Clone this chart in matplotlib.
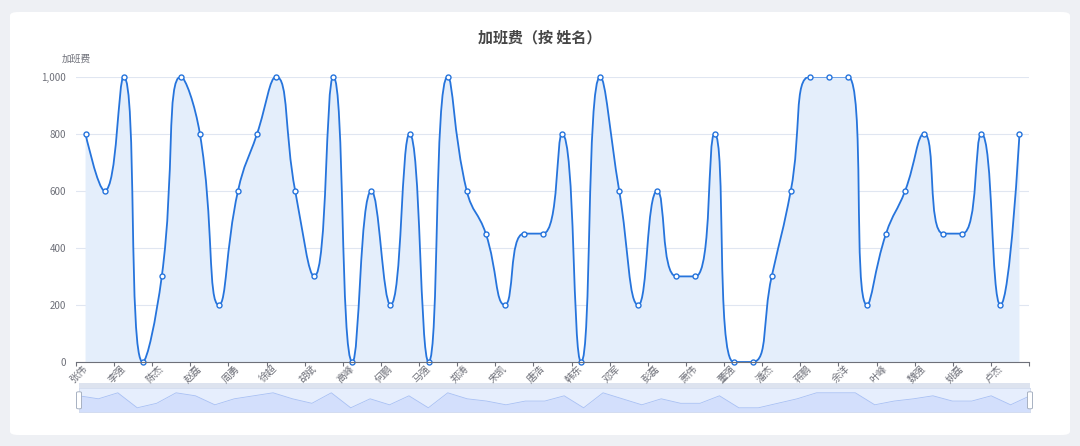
import numpy as np
import matplotlib
matplotlib.use("Agg")
import matplotlib.pyplot as plt
from matplotlib.path import Path
from matplotlib.patches import PathPatch, FancyBboxPatch, Rectangle

plt.rcParams['font.family'] = ['Noto Sans CJK SC', 'DejaVu Sans']

# ---------------- data ----------------
names = ["张伟", "王芳", "李强", "刘洋", "陈杰", "杨静", "赵磊", "黄丽", "周勇", "吴敏",
         "徐超", "孙娜", "胡斌", "朱燕", "高峰", "林霞", "何鹏", "郭倩", "马强", "罗婷",
         "郑涛", "梁雪", "宋凯", "谢丽", "唐浩", "许静", "韩东", "冯洁", "邓军", "曹颖",
         "彭磊", "曾琳", "萧伟", "田甜", "董强", "袁媛", "潘杰", "蔡芳", "蒋鹏", "杜娟",
         "余洋", "程丽", "叶峰", "苏敏", "魏强", "吕琴", "姚磊", "丁洁", "卢杰", "沈梅"]
overtime_pay = [800, 600, 1000, 0, 300, 1000, 800, 200, 600, 800,
                1000, 600, 300, 1000, 0, 600, 200, 800, 0, 1000,
                600, 450, 200, 450, 450, 800, 0, 1000, 600, 200,
                600, 300, 300, 800, 0, 0, 300, 600, 1000, 1000,
                1000, 200, 450, 600, 800, 450, 450, 800, 200, 800]
y_ticks = [0, 200, 400, 600, 800, 1000]
title_text = "加班费（按 姓名）"
y_name = "加班费"

# ---------------- style ----------------
W, H = 1080, 446
PAGE = "#eef0f4"
LINE = "#2674dc"
FILL = "#e4eefb"
AXC = "#6e7079"
GRID = "#e0e6f1"

def fx(px):
    return px / W

def fy(py):
    return 1 - py / H

fig = plt.figure(figsize=(W / 100, H / 100), dpi=100)
fig.patch.set_facecolor(PAGE)

card = FancyBboxPatch((fx(10), fy(435)), fx(1070) - fx(10), fy(12) - fy(435),
                      boxstyle="round,pad=0,rounding_size=0.008",
                      transform=fig.transFigure, facecolor="white",
                      edgecolor="none", zorder=-10)
fig.patches.append(card)

# main axes
L, R, T, B = 76, 1029, 76.7, 362
ax = fig.add_axes([fx(L), fy(B), fx(R) - fx(L), fy(T) - fy(B)])
ax.set_zorder(2)
ax.set_facecolor("none")
n = len(overtime_pay)
xs = np.arange(n)
ax.set_xlim(-0.5, n - 0.5)
ax.set_ylim(0, 1000)

for s in ["top", "right", "left"]:
    ax.spines[s].set_visible(False)
ax.spines["bottom"].set_color(AXC)
ax.spines["bottom"].set_linewidth(0.8)
ax.spines["bottom"].set_zorder(5)

ax.set_yticks(y_ticks)
ax.set_yticklabels([f"{v:,}" for v in y_ticks])
ax.tick_params(axis="y", length=0, pad=7, labelsize=7, labelcolor=AXC)
ax.yaxis.grid(True, color=GRID, linewidth=0.8)
ax.set_axisbelow(True)

# x ticks at band boundaries (every 2nd), labels at band centres
ax.set_xticks(np.arange(-0.5, n, 2))
ax.set_xticklabels([])
ax.tick_params(axis="x", which="major", length=3.2, color=AXC, width=0.8)
ax.set_xticks(xs[::2], minor=True)
ax.set_xticklabels(names[::2], minor=True, rotation=45, ha="right", va="center",
                   rotation_mode="anchor")
ax.tick_params(axis="x", which="minor", length=0, pad=3.5, labelsize=7.2, labelcolor=AXC)

# ECharts-style smooth curve computed in display space
fig.canvas.draw()
pts = ax.transData.transform(np.column_stack([xs, overtime_pay]))

def echarts_smooth(P, smooth=0.5):
    verts = [tuple(P[0])]
    codes = [Path.MOVETO]
    cpx0, cpy0 = P[0]
    prevX, prevY = P[0]
    N = len(P)
    for i in range(1, N):
        x, y = P[i]
        nextCpx0 = nextCpy0 = None
        if i == N - 1:
            cpx1, cpy1 = x, y
        else:
            nextX, nextY = P[i + 1]
            vx = nextX - prevX
            vy = nextY - prevY
            dx0, dy0 = x - prevX, y - prevY
            dx1, dy1 = nextX - x, nextY - y
            lp = np.hypot(dx0, dy0)
            ln = np.hypot(dx1, dy1)
            r = ln / (ln + lp)
            nextCpx0 = x + vx * smooth * r
            nextCpy0 = y + vy * smooth * r
            nextCpx0 = min(nextCpx0, max(nextX, x)); nextCpy0 = min(nextCpy0, max(nextY, y))
            nextCpx0 = max(nextCpx0, min(nextX, x)); nextCpy0 = max(nextCpy0, min(nextY, y))
            vx = nextCpx0 - x; vy = nextCpy0 - y
            cpx1 = x - vx * lp / ln; cpy1 = y - vy * lp / ln
            cpx1 = min(cpx1, max(prevX, x)); cpy1 = min(cpy1, max(prevY, y))
            cpx1 = max(cpx1, min(prevX, x)); cpy1 = max(cpy1, min(prevY, y))
            vx = x - cpx1; vy = y - cpy1
            nextCpx0 = x + vx * ln / lp
            nextCpy0 = y + vy * ln / lp
        verts += [(cpx0, cpy0), (cpx1, cpy1), (x, y)]
        codes += [Path.CURVE4] * 3
        cpx0, cpy0 = nextCpx0, nextCpy0
        prevX, prevY = x, y
    return np.array(verts), codes

v_disp, codes = echarts_smooth(pts)
v_data = ax.transData.inverted().transform(v_disp)

curve = Path(v_data, codes)
area_verts = np.vstack([v_data, [[xs[-1], 0], [xs[0], 0], v_data[0]]])
area_codes = codes + [Path.LINETO, Path.LINETO, Path.CLOSEPOLY]
ax.add_patch(PathPatch(Path(area_verts, area_codes), facecolor=FILL,
                       edgecolor="none", zorder=2))
ax.add_patch(PathPatch(curve, facecolor="none", edgecolor=LINE, linewidth=1.3,
                       zorder=3, capstyle="round", joinstyle="round"))
ax.plot(xs, overtime_pay, linestyle="none", marker="o", markersize=3.6,
        markerfacecolor="white", markeredgecolor=LINE, markeredgewidth=1.0,
        zorder=4, clip_on=False)

# title and axis name
fig.text(fx(540), fy(38), title_text, ha="center", va="center", fontsize=10.8,
         fontweight="bold", color="#464646")
fig.text(fx(76), fy(59), y_name, ha="center", va="center", fontsize=7, color=AXC)

# ---------------- data-zoom slider ----------------
SL, SR, ST, SB = 79, 1030, 388.3, 412.3
band = Rectangle((fx(SL), fy(ST)), fx(SR) - fx(SL), fy(383.3) - fy(ST),
                 transform=fig.transFigure, facecolor="#dde3ef", edgecolor="none", zorder=1)
fig.patches.append(band)
ax2 = fig.add_axes([fx(SL), fy(SB), fx(SR) - fx(SL), fy(ST) - fy(SB)])
ax2.set_zorder(2)
ax2.set_facecolor("#e6eefd")
ax2.set_xlim(0, n - 1)
ax2.set_ylim(-300, 1300)
ax2.set_xticks([]); ax2.set_yticks([])
for s in ax2.spines.values():
    s.set_color("#d2dbee")
    s.set_linewidth(0.6)
ax2.fill_between(xs, overtime_pay, -300, color="#d3dffc", linewidth=0)
ax2.plot(xs, overtime_pay, color="#a8c0f4", linewidth=0.6)

for hx in (SL, SR):
    hw, hh = 5, 17
    h = FancyBboxPatch((fx(hx - hw / 2), fy(400.3 + hh / 2)), fx(hw), fy(0) - fy(hh),
                       boxstyle="round,pad=0,rounding_size=0.002",
                       transform=fig.transFigure, facecolor="white",
                       edgecolor="#a7b1c2", linewidth=0.7, zorder=5)
    fig.patches.append(h)

fig.savefig("out.png", dpi=100, facecolor=PAGE)
